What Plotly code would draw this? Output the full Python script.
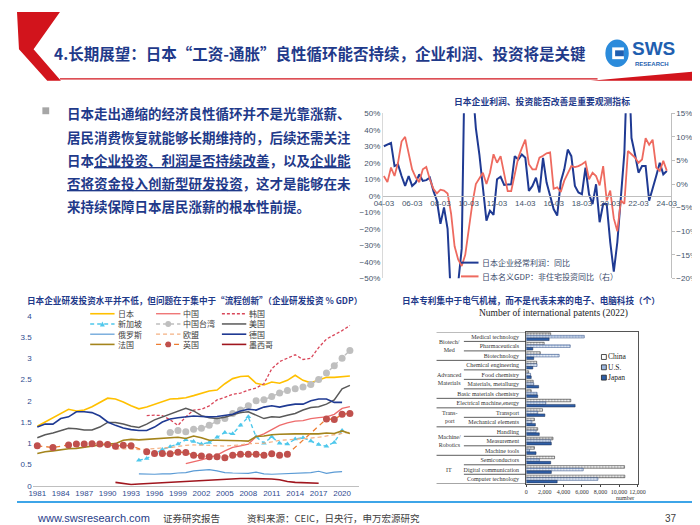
import plotly.graph_objects as go

W, H = 700, 525
CJK = "Noto Sans CJK SC"
SANS = "Liberation Sans, Noto Sans CJK SC"
SERIF = "Liberation Serif"
NAVY = "#1F3A8A"
RED = "#D2141C"

# ---------------- 右上：企业利润 / 非住宅投资（季度同比 %） ----------------
quarter_dates = [f"{y}-{m:02d}-01" for y in range(2004, 2025) for m in (3, 6, 9, 12)][:81]
profit_yoy = [30, 31, 32, 18, 19, 12, 6, 12, 6, 8, 13, 9, 9.5, 11, 3, -3,
              -17, -7, -20, -64, -69, -53, -32, 102, 164, 69, 41, 25, 5, -15, -9, -11.5,
              10, 11.5, 6.6, 7, 7, 24, 22, 25, 23, 3, 6, 11, 2, 23, 8, 0,
              -8, -12, 8.5, 16, 28, 24, 6, 2, 1, 17, 1, -5, 7, -16, -5, -5,
              -28, -46, -28, -1, 26, 93, 35, 25, 14, 18, 18, -3, 4, 12, 20, 13, 15]
capex_yoy = [1.7, 0.4, 3.5, 1.7, 4.5, 9, 10, 6.3, 3.1, 1.4, 0.4, 3.1, 3.6, 1, -1, -2,
             -1.2, -1.4, -2, -6.3, -13.2, -16, -17.4, -15, -9.4, -4.2, 0, 1.3, 2.4, 0, 2.4, 6.3,
             4.5, 5.9, 2.4, -1.5, -1.5, 2.4, 5.6, 7.6, 9.4, 4.2, 3.1, 3.1, 5.6, 6.0, 6.5, 6.7,
             -1, -0.7, -1.7, 0.7, 2.4, 3.8, 3.6, 3.8, 4.2, 4.7, 1, 2.4, 1.7, -0.3, 3.8, -3.5,
             -1.4, -7.3, -10, -3.5, -4.2, 7, 6.3, 5.6, 4.5, 5.2, 9.7, 8.3, 9.4, 3.5, 2.8, 4.9, 2.8]

# ---------------- 左下：企业研发投资 % GDP ----------------
yrs_81_21 = list(range(1981, 2022))
rd_japan = [1.40, 1.50, 1.60, 1.70, 1.80, 1.76, 1.78, 1.86, 1.97, 2.06,
            2.04, 1.97, 1.88, 1.81, 1.85, 1.91, 1.98, 2.04, 2.05, 2.07,
            2.12, 2.18, 2.23, 2.25, 2.40, 2.52, 2.57, 2.58, 2.41, 2.37,
            2.44, 2.41, 2.48, 2.60, 2.48, 2.42, 2.48, 2.55, 2.55, 2.56, 2.58]
rd_us = [1.13, 1.20, 1.24, 1.30, 1.35, 1.34, 1.31, 1.31, 1.38, 1.49,
         1.49, 1.45, 1.40, 1.37, 1.45, 1.55, 1.62, 1.68, 1.75, 1.82,
         1.76, 1.65, 1.60, 1.58, 1.61, 1.66, 1.72, 1.74, 1.66, 1.58,
         1.62, 1.61, 1.66, 1.70, 1.78, 1.84, 1.86, 1.92, 2.02, 2.28, 2.36]
rd_france = [0.76, 0.80, 0.82, 0.85, 0.87, 0.88, 0.91, 0.93, 0.96, 0.98,
             0.99, 1.07, 1.09, 1.08, 1.09, 1.10, 1.11, 1.12, 1.14, 1.11,
             1.17, 1.13, 1.07, 1.07, 1.07, 1.07, 1.06, 1.05, 1.16, 1.17,
             1.20, 1.21, 1.22, 1.22, 1.22, 1.22, 1.22, 1.24, 1.23, 1.29, 1.23]
yrs_81_20 = list(range(1981, 2021))
rd_germany = [1.38, 1.45, 1.45, 1.58, 1.62, 1.74, 1.74, 1.72, 1.64, 1.50,
              1.42, 1.36, 1.32, 1.30, 1.30, 1.38, 1.50, 1.57, 1.60, 1.62,
              1.64, 1.63, 1.62, 1.63, 1.66, 1.68, 1.76, 1.80, 1.78, 1.85,
              1.88, 1.85, 1.89, 1.92, 1.92, 2.00, 2.04, 2.04, 1.96, 1.96]
yrs_00_21 = list(range(2000, 2022))
rd_china = [0.52, 0.56, 0.61, 0.66, 0.72, 0.82, 0.90, 0.94, 0.98, 1.15, 1.22,
            1.32, 1.42, 1.48, 1.52, 1.53, 1.58, 1.60, 1.62, 1.68, 1.82, 1.86]
yrs_95_21 = list(range(1995, 2022))
rd_korea = [1.65, 1.66, 1.65, 1.55, 1.42, 1.62, 1.78, 1.80, 1.88, 2.02, 2.08, 2.15, 2.18, 2.25,
            2.30, 2.40, 2.75, 2.92, 3.00, 3.08, 2.97, 3.00, 3.25, 3.45, 3.55, 3.65, 3.77]
yrs_98_21 = list(range(1998, 2022))
rd_taiwan = [1.25, 1.30, 1.27, 1.33, 1.35, 1.42, 1.52, 1.58, 1.70, 1.78, 1.88, 2.00,
             2.02, 2.10, 2.18, 2.24, 2.28, 2.32, 2.38, 2.50, 2.65, 2.82, 3.00, 3.18]
yrs_94_20 = list(range(1994, 2021))
rd_singapore = [0.60, 0.64, 0.75, 0.85, 0.92, 0.98, 1.08, 1.04, 0.98, 1.02, 1.14, 1.25, 1.22, 1.42,
                1.62, 1.15, 1.00, 1.15, 1.00, 0.98, 1.10, 1.13, 1.05, 0.97, 0.93, 1.02, 1.30]
rd_russia = [0.28, 0.27, 0.27, 0.28, 0.28, 0.30, 0.31, 0.35, 0.37, 0.38, 0.35, 0.31, 0.30, 0.30,
             0.29, 0.32, 0.28, 0.27, 0.28, 0.28, 0.29, 0.30, 0.31, 0.34, 0.29, 0.32, 0.33]
yrs_91_21 = list(range(1991, 2022))
rd_eu = [0.86, 0.87, 0.86, 0.85, 0.86, 0.88, 0.89, 0.90, 0.93, 0.95, 0.96, 0.96, 0.95, 0.94, 0.93, 0.95,
         0.96, 0.99, 1.00, 1.00, 1.03, 1.07, 1.08, 1.09, 1.10, 1.12, 1.14, 1.17, 1.20, 1.24, 1.26]
yrs_91_17 = list(range(1991, 2018))
rd_mexico = [0.08, 0.05, 0.03, 0.04, 0.05, 0.06, 0.07, 0.08, 0.09, 0.10, 0.11, 0.12, 0.13, 0.14,
             0.16, 0.16, 0.17, 0.17, 0.17, 0.16, 0.16, 0.14, 0.10, 0.08, 0.07, 0.07, 0.06]
yrs_uk = [1981, 1983] + list(range(1985, 1994)) + list(range(1995, 2014)) + [2018, 2019, 2020, 2021]
rd_uk = [0.94, 0.90, 0.96, 0.98, 0.98, 0.99, 0.98, 0.97, 0.93, 0.95, 0.94,
         0.80, 0.76, 0.76, 0.75, 0.79, 0.78, 0.72, 0.70, 0.68, 0.68, 0.66, 0.72, 0.74, 0.74,
         0.74, 0.72, 0.75, 0.72, 0.74, 1.57, 1.56, 1.68, 1.70]

# ---------------- 右下：国际专利数量（2022） ----------------
patent_fields = ["Medical technology", "Pharmaceuticals", "Biotechnology", "Chemical engineering",
                 "Food chemistry", "Materials, metallurgy", "Basic materials chemistry",
                 "Electrical machine,energy", "Transport", "Mechanical elements", "Handling",
                 "Measurement", "Machine tools", "Semiconductors", "Digital communication",
                 "Computer technology"]
patents_china = [2630, 1930, 1510, 1120, 250, 740, 530, 4800, 1750, 880, 1230, 2880, 880, 3050, 10600, 10630]
patents_us = [6250, 4740, 3545, 1160, 460, 800, 1160, 2100, 1230, 600, 1050, 2630, 350, 1400, 6140, 7720]
patents_japan = [2460, 700, 800, 700, 530, 1330, 1230, 5265, 2000, 980, 1400, 2700, 1050, 2630, 2700, 3330]
patent_groups = [("Biotech/<br>Med", 0, 3), ("Advanced<br>Materials", 3, 7), ("", 7, 8),
                 ("Trans-<br>port", 8, 10), ("Machine/<br>Robotics", 10, 13), ("IT", 13, 16)]


def px(x):
    return x / W


def py(y):
    return 1 - y / H


shapes = []
annotations = []


def add_text(x, y, text, size, color, xanchor="left", family=CJK, **kw):
    annotations.append(dict(x=px(x), y=py(y), xref="paper", yref="paper", text=text,
                            showarrow=False, xanchor=xanchor, yanchor="middle", borderpad=0,
                            font=dict(size=size, color=color, family=family), **kw))


def add_line(x0, y0, x1, y1, color, width=1, dash="solid"):
    shapes.append(dict(type="line", xref="paper", yref="paper", x0=px(x0), y0=py(y0),
                       x1=px(x1), y1=py(y1), line=dict(color=color, width=width, dash=dash)))


def add_poly(points, color):
    path = "M " + " L ".join(f"{px(a):.4f},{py(b):.4f}" for a, b in points) + " Z"
    shapes.append(dict(type="path", xref="paper", yref="paper", path=path,
                       fillcolor=color, line=dict(width=0)))


fig = go.Figure()

# ---- top-right lines
fig.add_trace(go.Scatter(x=quarter_dates, y=profit_yoy, mode="lines", xaxis="x", yaxis="y",
                         line=dict(color="#1F3A93", width=2), showlegend=False))
fig.add_trace(go.Scatter(x=quarter_dates, y=capex_yoy, mode="lines", xaxis="x", yaxis="y2",
                         line=dict(color="#EE6A5F", width=1.8), showlegend=False))

# ---- bottom-left lines (name, years, values, line, marker)
rd_series = [
    ("日本", yrs_81_21, rd_japan, dict(color="#FFC000", width=1.6), None),
    ("中国", yrs_00_21, rd_china, dict(color="#EE6B6B", width=1.3), None),
    ("韩国", yrs_95_21, rd_korea, dict(color="#D9475A", width=1.3, dash="3px,2px"), None),
    ("新加坡", yrs_94_20, rd_singapore, dict(color="#4FC8EC", width=1.4, dash="4px,3px"),
     dict(symbol="triangle-up", size=5, color="#4FC8EC")),
    ("中国台湾", yrs_98_21, rd_taiwan, dict(color="#BFBFBF", width=1.4, dash="4px,3px"),
     dict(symbol="circle", size=7, color="#BFBFBF")),
    ("美国", yrs_81_21, rd_us, dict(color="#595959", width=1.5), None),
    ("俄罗斯", yrs_94_20, rd_russia, dict(color="#5B9BD5", width=1.2), None),
    ("欧盟", yrs_91_21, rd_eu, dict(color="#F4B183", width=1.2, dash="4px,3px"), None),
    ("德国", yrs_81_20, rd_germany, dict(color="#1F3A93", width=1.6), None),
    ("法国", yrs_81_21, rd_france, dict(color="#A4841C", width=1.6), None),
    ("英国", yrs_uk, rd_uk, dict(color="#ED7D31", width=1.3, dash="5px,4px"),
     dict(symbol="circle", size=7, color="#C0504D")),
    ("墨西哥", yrs_91_17, rd_mexico, dict(color="#A0161E", width=1.6), None),
]
for name, xs, ys, ln, mk in rd_series:
    fig.add_trace(go.Scatter(x=xs, y=ys, mode="lines+markers" if mk else "lines",
                             line=ln, marker=mk, xaxis="x2", yaxis="y3", showlegend=False))

# ---- bottom-right bars
patent_rows = list(range(len(patent_fields)))
bar_styles = [
    ("China", patents_china, dict(color="white", line=dict(color="#222", width=0.5),
                                  pattern=dict(shape=".", fgcolor="#222", bgcolor="white", size=3, solidity=0.45))),
    ("U.S.", patents_us, dict(color="white", line=dict(color="#1F3F7A", width=0.5),
                              pattern=dict(shape=".", fgcolor="#2E5FA8", bgcolor="white", size=3, solidity=0.5))),
    ("Japan", patents_japan, dict(color="#2F5FA7", line=dict(color="#1A2A4A", width=0.5))),
]
for name, vals, mk in bar_styles:
    fig.add_trace(go.Bar(y=patent_rows, x=vals, orientation="h", marker=mk, xaxis="x3", yaxis="y4",
                         showlegend=False))

# ================= decorations =================
# header
add_poly([(0, 0), (44, 0), (17, 38), (45, 70), (31, 70), (2, 38)], RED)
add_line(44, 68, 595, 68, RED, 1.2)
add_poly([(588, 70), (700, 60), (700, 70)], RED)
add_text(37, 42, "<b>4.长期展望：日本“工资-通胀”良性循环能否持续，企业利润、投资将是关键</b>", 15.5, NAVY)
shapes.append(dict(type="circle", xref="paper", yref="paper", x0=px(603), x1=px(627), y0=py(56), y1=py(28),
                   fillcolor="#2B8BDB", line=dict(width=0)))
shapes.append(dict(type="rect", xref="paper", yref="paper", x0=px(610), x1=px(622), y0=py(48), y1=py(36),
                   fillcolor="white", line=dict(width=0)))
shapes.append(dict(type="rect", xref="paper", yref="paper", x0=px(613), x1=px(622), y0=py(45), y1=py(39),
                   fillcolor="#1F5FB0", line=dict(width=0)))
add_text(629, 37, "<b>SWS</b>", 19, "#1F5FB0", family="Liberation Sans")
add_text(632, 53, "<b>RESEARCH</b>", 6, "#1F5FB0", family="Liberation Sans")

# left text block
shapes.append(dict(type="rect", xref="paper", yref="paper", x0=px(26), x1=px(33), y0=py(104), y1=py(97),
                   fillcolor="#A6A6A6", line=dict(width=0)))
body_lines = [
    "日本走出通缩的经济良性循环并不是光靠涨薪、",
    "居民消费恢复就能够长期维持的，后续还需关注",
    "日本<u>企业投资、利润是否持续改善</u>，以及<u>企业能</u>",
    "<u>否将资金投入创新型研发投资</u>，这才是能够在未",
    "来持续保障日本居民涨薪的根本性前提。",
]
for i, line in enumerate(body_lines):
    add_text(50, 103 + 23.7 * i, f"<b>{line}</b>", 13.5, NAVY)

# top-right title + legend
add_text(538, 91, "<b>日本企业利润、投资能否改善是重要观测指标</b>", 8.8, NAVY, xanchor="center")
add_line(455, 255, 473, 255, "#1F3A93", 2)
add_line(455, 269, 473, 269, "#EE6A5F", 2)
add_text(476, 255, "日本企业经常利润：同比", 8, "#3B4A6B")
add_text(476, 269, "日本名义GDP：非住宅投资同比（右）", 8, "#3B4A6B")

# bottom-left title + legend
add_text(9, 293, "<b>日本企业研发投资水平并不低，但问题在于集中于“流程创新”（企业研发投资 % GDP）</b>", 8.6, NAVY)
for k, (name, xs, ys, ln, mk) in enumerate(rd_series):
    r, c = divmod(k, 3)
    x0 = 75 + 67.5 * c
    y0 = 307 + 10.4 * r
    add_line(x0, y0, x0 + 25, y0, ln["color"], ln["width"], ln.get("dash", "solid"))
    if mk is not None:
        cx = x0 + 12.5
        if mk["symbol"] == "circle":
            shapes.append(dict(type="circle", xref="paper", yref="paper", x0=px(cx - 3), x1=px(cx + 3),
                               y0=py(y0 + 3), y1=py(y0 - 3), fillcolor=mk["color"], line=dict(width=0)))
        else:
            add_poly([(cx - 2.5, y0 + 2.5), (cx + 2.5, y0 + 2.5), (cx, y0 - 2.5)], mk["color"])
    add_text(x0 + 27, y0, name, 8, "#404040")

# bottom-right titles, group labels, separators, legend
add_text(527, 293, "<b>日本专利集中于电气机械，而不是代表未来的电子、电脑科技（个）</b>", 8.6, NAVY, xanchor="center")
add_text(550, 307, "Number of international patents (2022)", 9.5, "#222", xanchor="center", family=SERIF)
for label, start, end in patent_groups:
    if label:
        annotations.append(dict(x=px(443), y=(start + end - 1) / 2, xref="paper", yref="y4", text=label,
                                showarrow=False, xanchor="center", yanchor="middle",
                                font=dict(size=6, color="#333", family=SERIF)))
    shapes.append(dict(type="line", xref="paper", yref="y4", x0=px(430), x1=px(522), y0=start - 0.5,
                       y1=start - 0.5, line=dict(color="#333", width=0.8)))
    for k in range(start + 1, end):
        shapes.append(dict(type="line", xref="paper", yref="y4", x0=px(458), x1=px(522), y0=k - 0.5,
                           y1=k - 0.5, line=dict(color="#333", width=0.8)))
shapes.append(dict(type="line", xref="paper", yref="y4", x0=px(430), x1=px(522), y0=len(patent_fields) - 0.5,
                   y1=len(patent_fields) - 0.5, line=dict(color="#333", width=0.8)))
for i, (name, vals, mk) in enumerate(bar_styles):
    yy = 351 + 10.5 * i
    fill = {"China": "white", "U.S.": "#9DB7DD", "Japan": "#2F5FA7"}[name]
    shapes.append(dict(type="rect", xref="paper", yref="paper", x0=px(599), x1=px(604), y0=py(yy + 2.5),
                       y1=py(yy - 2.5), fillcolor=fill, line=dict(color="#222", width=0.8)))
    add_text(605, yy, name, 7.5, "#222", family=SERIF)
add_text(623, 494, "number", 6, "#333", xanchor="center", family=SERIF)

# footer
add_line(0, 498.5, 700, 498.5, "#3DA5E8", 2)
add_text(19, 515, "www.swsresearch.com", 11, "#1F3C88", family="Liberation Sans")
add_text(149, 515, "证券研究报告", 9.5, "#404040")
add_text(235, 515, "资料来源：CEIC，日央行，申万宏源研究", 9.5, "#404040")
add_text(670, 515, "37", 10, "#404040", xanchor="center", family="Liberation Sans")

tick_tr = dict(size=8, color="#44546A", family="Liberation Sans")
tick_bl = dict(size=8, color="#2F4B8F", family="Liberation Sans")
tick_br = dict(size=6, color="#333", family=SERIF)

fig.update_layout(
    width=W, height=H, margin=dict(l=0, r=0, t=0, b=0),
    paper_bgcolor="white", plot_bgcolor="rgba(0,0,0,0)",
    barmode="group", bargap=0.18, bargroupgap=0,
    shapes=shapes, annotations=annotations,
    xaxis=dict(domain=[px(375), px(670)], type="date", range=["2004-02-05", "2024-06-10"],
               tickformat="%y-%m", dtick="M24", tick0="2004-03-01", anchor="free", position=py(187),
               showline=True, linecolor="#BFBFBF", showgrid=False, zeroline=False, tickfont=tick_tr),
    yaxis=dict(domain=[py(271), py(103)], range=[-50, 50], dtick=10, ticksuffix="%", anchor="x",
               showline=True, linecolor="#D9D9D9", showgrid=False, zeroline=False, tickfont=tick_tr),
    yaxis2=dict(overlaying="y", side="right", anchor="x", range=[-20, 15], dtick=5, ticksuffix="%",
                showline=True, linecolor="#BFBFBF", ticks="outside", ticklen=3, tickcolor="#BFBFBF",
                showgrid=False, zeroline=False, tickfont=tick_tr),
    xaxis2=dict(domain=[px(16), px(350)], range=[1980.4, 2022.1], tick0=1981, dtick=3, anchor="y3",
                showline=True, linecolor="#BFBFBF", showgrid=False, zeroline=False, tickfont=tick_bl),
    yaxis3=dict(domain=[py(482), py(309)], range=[0, 4], dtick=0.5, anchor="x2",
                showgrid=False, zeroline=False, tickfont=tick_bl),
    xaxis3=dict(domain=[px(522), px(636)], range=[0, 12000], dtick=2000, tickformat=",", anchor="y4",
                tickangle=0, showline=True, mirror=True, linecolor="#555", ticks="outside", ticklen=2,
                showgrid=False, zeroline=False, tickfont=tick_br),
    yaxis4=dict(domain=[py(480), py(325.5)], range=[15.5, -0.5], tickvals=patent_rows, ticktext=patent_fields,
                anchor="x3", showline=True, mirror=True, linecolor="#555", showgrid=False, zeroline=False,
                ticklabelstandoff=5, tickfont=tick_br),
)

fig.write_html("out.html")
